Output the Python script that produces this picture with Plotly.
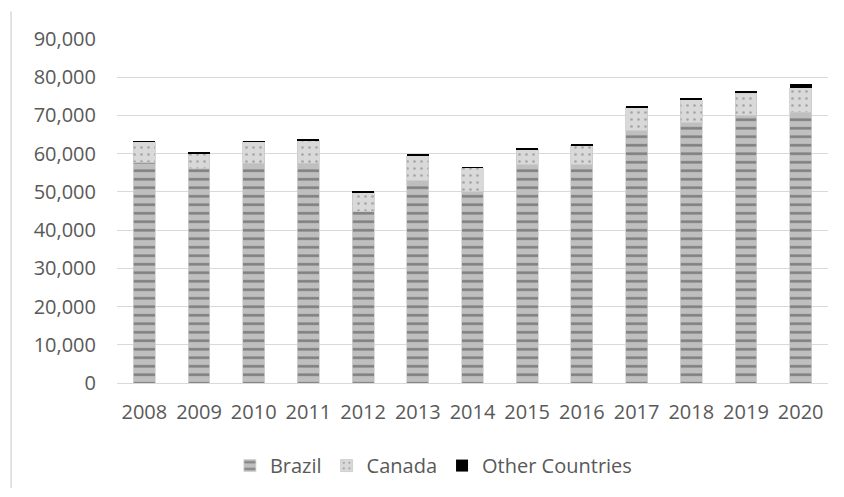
import plotly.graph_objects as go

years = ["2008", "2009", "2010", "2011", "2012", "2013", "2014",
         "2015", "2016", "2017", "2018", "2019", "2020"]
brazil = [57800, 56000, 57500, 57500, 45000, 52900, 50000,
          57100, 57100, 66000, 68100, 70000, 70800]
canada = [5300, 4000, 5700, 6000, 4900, 6600, 6300,
          4100, 5100, 6100, 5950, 5850, 6450]
other = [60, 400, 60, 350, 150, 400, 50,
         300, 120, 120, 500, 600, 1050]
y_ticks = [0, 10000, 20000, 30000, 40000, 50000, 60000, 70000, 80000, 90000]

FONT = "Open Sans"
TXT = "#595959"
FS = 20

fig = go.Figure()
fig.add_bar(
    x=years, y=brazil, name="Brazil",
    marker=dict(color="#bfbfbf",
                line=dict(color="#d0d0d0", width=0.75),
                pattern=dict(shape="-", fgcolor="#7f7f7f", bgcolor="#bfbfbf",
                             size=8.5, solidity=0.3, fillmode="replace")),
)
fig.add_bar(
    x=years, y=canada, name="Canada",
    marker=dict(color="#d9d9d9",
                line=dict(color="#c8c8c8", width=0.75),
                pattern=dict(shape=".", fgcolor="#a6a6a6", bgcolor="#d9d9d9",
                             size=7, solidity=0.12, fillmode="replace")),
)
fig.add_bar(
    x=years, y=other, name="Other Countries",
    marker=dict(color="#000000", line=dict(width=0)),
)

fig.update_layout(
    barmode="stack",
    bargap=0.6,
    width=844, height=497,
    margin=dict(l=117, r=16, t=39, b=114),
    paper_bgcolor="white", plot_bgcolor="white",
    font=dict(family=FONT, size=FS, color=TXT),
    showlegend=True,
    legend=dict(orientation="h", x=0.445, xanchor="center", y=-0.24, yanchor="middle",
                font=dict(family=FONT, size=FS, color=TXT),
                itemwidth=30, traceorder="normal"),
    xaxis=dict(showgrid=False, showline=True, linecolor="#d9d9d9", linewidth=1,
               ticks="", ticklabelstandoff=11,
               tickfont=dict(family=FONT, size=FS, color=TXT)),
    yaxis=dict(range=[0, 90000], tickvals=y_ticks, tickformat=",",
               showgrid=True, gridcolor="#d9d9d9", gridwidth=1,
               zeroline=False, showline=False, ticks="", ticklabelstandoff=20,
               tickfont=dict(family=FONT, size=FS, color=TXT)),
    shapes=[dict(type="line", xref="paper", yref="paper",
                 x0=-0.149, x1=-0.149, y0=-0.305, y1=1.08,
                 line=dict(color="#d9d9d9", width=1.5))],
)

fig.write_html("out.html")
